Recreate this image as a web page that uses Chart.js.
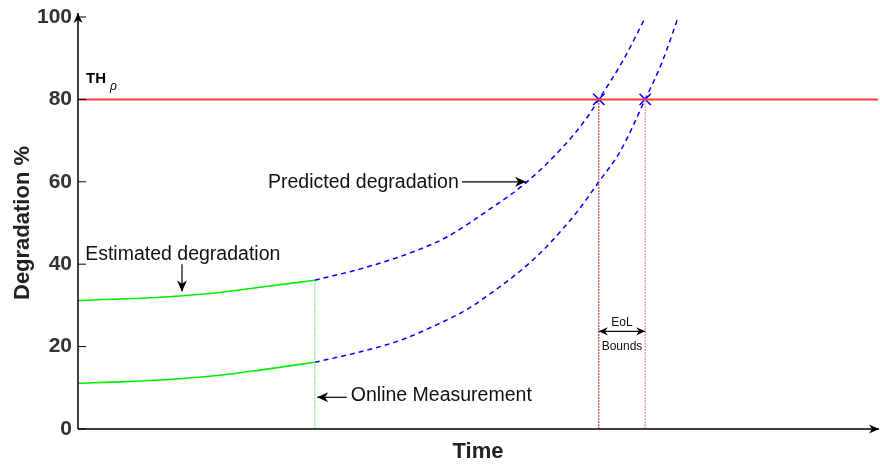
<!DOCTYPE html>
<html>
<head>
<meta charset="utf-8">
<script src="https://cdn.jsdelivr.net/npm/chart.js@4.4.0/dist/chart.umd.min.js"></script>
<style>
    html, body { margin: 0; padding: 0; background: #fff; }
    #wrap { width: 880px; height: 465px; }
</style>
</head>
<body>
<div id="wrap"><canvas id="myChart" width="880" height="465"></canvas></div>
<script>
// values (time axis is unitless 0..100)
const yTicks = [0, 20, 40, 60, 80, 100];
const threshold = 80;
const measureTime = 29.6;
const eolTimes = [65.1, 70.9];

const estUpperX = [0, 6, 12.75, 18, 22.75, 29.6];
const estUpperY = [31.2, 31.6, 32.3, 33.2, 34.4, 36.1];
const estLowerX = [0, 6, 12.75, 18, 22.75, 29.6];
const estLowerY = [11.1, 11.5, 12.2, 13.1, 14.3, 16.2];

const predUpperX = [29.6, 36.1, 42.3, 46.1, 51.5, 55.7, 60.25, 63.6, 65.1, 68, 70.9];
const predUpperY = [36.1, 39.3, 43.3, 46.6, 53.4, 59.3, 67.7, 75.5, 80, 89, 99.8];
const predLowerX = [29.6, 35, 40.25, 44.5, 48.6, 52, 55.25, 58.2, 60.25, 62.5, 65.1, 67.75, 70.9, 73, 75];
const predLowerY = [16.2, 18.6, 21.5, 25, 29, 33.5, 38.3, 43.5, 47.8, 53, 60, 67.3, 80, 89, 99.8];

const pts = (xs, ys) => xs.map((v, i) => ({ x: v, y: ys[i] }));

const FONT = "'Liberation Sans', Arial, sans-serif";

function arrowHead(ctx, x, y, angle, size) {
    ctx.save();
    ctx.translate(x, y);
    ctx.rotate(angle);
    ctx.beginPath();
    ctx.moveTo(0, 0);
    ctx.lineTo(-size, -size * 0.45);
    ctx.lineTo(-size * 0.7, 0);
    ctx.lineTo(-size, size * 0.45);
    ctx.closePath();
    ctx.fill();
    ctx.restore();
}

function arrow(ctx, x1, y1, x2, y2, size) {
    ctx.beginPath();
    ctx.moveTo(x1, y1);
    ctx.lineTo(x2, y2);
    ctx.stroke();
    arrowHead(ctx, x2, y2, Math.atan2(y2 - y1, x2 - x1), size);
}

const overlay = {
    id: 'overlay',
    afterDraw(chart) {
        const { ctx, chartArea: a, scales: { x, y } } = chart;
        ctx.save();
        ctx.strokeStyle = '#000';
        ctx.fillStyle = '#000';

        // axes with arrow heads
        ctx.lineWidth = 1.5;
        arrow(ctx, a.left, a.bottom, a.left, a.top - 4, 10);
        arrow(ctx, a.left, a.bottom, a.right + 1, a.bottom, 10);

        // inner ticks
        ctx.lineWidth = 1;
        yTicks.forEach(v => {
            const py = y.getPixelForValue(v);
            ctx.beginPath();
            ctx.moveTo(a.left, py);
            ctx.lineTo(a.left + 8, py);
            ctx.stroke();
        });

        // threshold label
        ctx.fillStyle = '#000';
        ctx.textBaseline = 'middle';
        ctx.textAlign = 'left';
        ctx.font = 'bold 15px ' + FONT;
        ctx.fillText('TH', x.getPixelForValue(1.0), y.getPixelForValue(85));
        ctx.font = 'italic 12px ' + FONT;
        ctx.fillText('ρ', x.getPixelForValue(4.0), y.getPixelForValue(83));

        // text annotations
        ctx.fillStyle = '#111';
        ctx.font = '19.5px ' + FONT;
        ctx.fillText('Predicted degradation', x.getPixelForValue(23.75), y.getPixelForValue(59.8));
        ctx.fillText('Estimated degradation', x.getPixelForValue(0.9), y.getPixelForValue(42.3));
        ctx.fillText('Online Measurement', x.getPixelForValue(34.1), y.getPixelForValue(8.2));

        ctx.lineWidth = 1.2;
        ctx.fillStyle = '#000';
        arrow(ctx, x.getPixelForValue(48), y.getPixelForValue(60), x.getPixelForValue(56), y.getPixelForValue(60), 11);
        arrow(ctx, x.getPixelForValue(13), y.getPixelForValue(40), x.getPixelForValue(13), y.getPixelForValue(33.4), 11);
        arrow(ctx, x.getPixelForValue(33.6), y.getPixelForValue(7.7), x.getPixelForValue(29.9), y.getPixelForValue(7.7), 11);

        // EoL bounds double arrow
        const ex1 = x.getPixelForValue(eolTimes[0]);
        const ex2 = x.getPixelForValue(eolTimes[1]);
        const ey = y.getPixelForValue(23.7);
        arrow(ctx, (ex1 + ex2) / 2, ey, ex2, ey, 9);
        arrow(ctx, (ex1 + ex2) / 2, ey, ex1, ey, 9);
        ctx.fillStyle = '#111';
        ctx.textAlign = 'center';
        ctx.font = '12px ' + FONT;
        ctx.fillText('EoL', (ex1 + ex2) / 2, y.getPixelForValue(25.7));
        ctx.fillText('Bounds', (ex1 + ex2) / 2, y.getPixelForValue(20.0));

        ctx.restore();
    }
};

const config = {
    type: 'scatter',
    data: {
        datasets: [
            {
                data: pts([measureTime, measureTime], [0, estUpperY[estUpperY.length - 1]]),
                showLine: true, borderColor: '#66ee66', borderWidth: 1, borderDash: [2, 1], pointRadius: 0
            },
            {
                data: pts([eolTimes[0], eolTimes[0]], [0, threshold]),
                showLine: true, borderColor: '#dd1111', borderWidth: 1, borderDash: [2, 1], pointRadius: 0
            },
            {
                data: pts([eolTimes[1], eolTimes[1]], [0, threshold]),
                showLine: true, borderColor: '#ff8888', borderWidth: 1.2, borderDash: [2, 1], pointRadius: 0
            },
            {
                data: pts([0, 100], [threshold, threshold]),
                showLine: true, borderColor: '#ff3b3b', borderWidth: 2, pointRadius: 0
            },
            {
                data: pts(estUpperX, estUpperY),
                showLine: true, borderColor: '#00ee00', borderWidth: 1.6, pointRadius: 0,
                cubicInterpolationMode: 'monotone'
            },
            {
                data: pts(estLowerX, estLowerY),
                showLine: true, borderColor: '#00ee00', borderWidth: 1.6, pointRadius: 0,
                cubicInterpolationMode: 'monotone'
            },
            {
                data: pts(predUpperX, predUpperY),
                showLine: true, borderColor: '#0000ff', borderWidth: 1.5, borderDash: [5, 4], pointRadius: 0,
                cubicInterpolationMode: 'monotone'
            },
            {
                data: pts(predLowerX, predLowerY),
                showLine: true, borderColor: '#0000ff', borderWidth: 1.5, borderDash: [5, 4], pointRadius: 0,
                cubicInterpolationMode: 'monotone'
            },
            {
                data: pts(eolTimes, [threshold, threshold]),
                showLine: false, pointStyle: 'crossRot', pointRadius: 8,
                borderColor: '#0000ff', borderWidth: 1.6
            }
        ]
    },
    options: {
        responsive: false,
        animation: false,
        events: [],
        layout: { autoPadding: false, padding: { top: 17, right: 2, left: 0, bottom: 0 } },
        plugins: { legend: { display: false }, tooltip: { enabled: false } },
        scales: {
            x: {
                type: 'linear', min: 0, max: 100,
                grid: { display: false, drawTicks: false }, border: { display: false },
                ticks: { display: false },
                title: {
                    display: true, text: 'Time', color: '#222',
                    font: { family: FONT, size: 22, weight: 'bold' },
                    padding: { top: 0, bottom: 0 }
                },
                afterFit: s => {
                    s.height = 36;
                    s.paddingLeft = 0;
                    s.paddingRight = 0;
                }
            },
            y: {
                min: 0, max: 100,
                afterBuildTicks: s => { s.ticks = yTicks.map(v => ({ value: v })); },
                grid: { display: false, drawTicks: false }, border: { display: false },
                ticks: { color: '#333', padding: 6, font: { family: FONT, size: 21, weight: 'bold' } },
                title: {
                    display: true, text: 'Degradation %', color: '#222',
                    font: { family: FONT, size: 22, weight: 'bold' },
                    padding: { top: 10, bottom: 0 }
                },
                afterFit: s => {
                    s.width = 78;
                    s.paddingTop = 0;
                    s.paddingBottom = 0;
                }
            }
        }
    },
    plugins: [overlay]
};

new Chart(document.getElementById('myChart'), config);
</script>
</body>
</html>
